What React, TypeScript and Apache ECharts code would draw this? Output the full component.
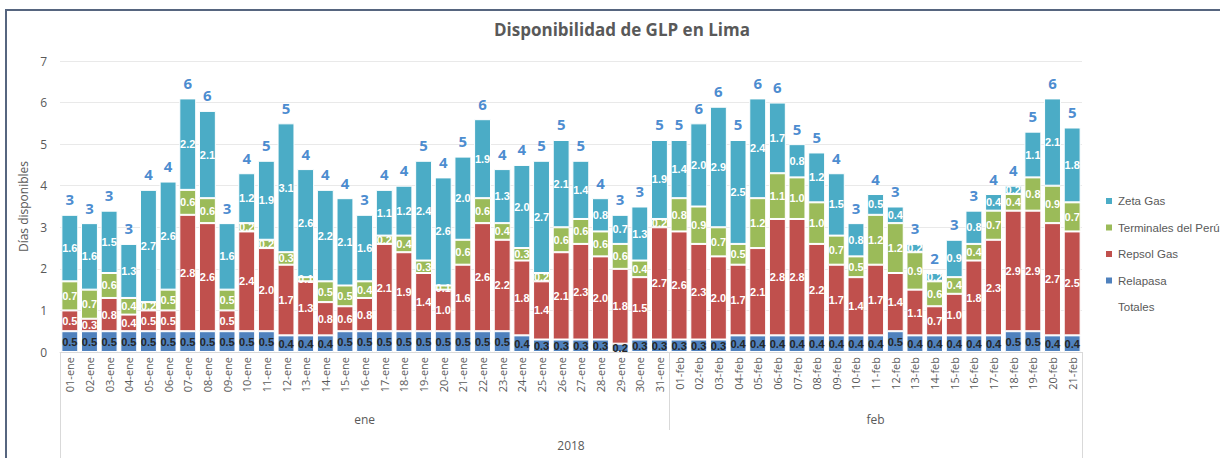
import React, { useEffect, useRef } from "react";
import * as echarts from "echarts";

const categories: string[] = [
  "01-ene", "02-ene", "03-ene", "04-ene", "05-ene", "06-ene", "07-ene", "08-ene", "09-ene", "10-ene",
  "11-ene", "12-ene", "13-ene", "14-ene", "15-ene", "16-ene", "17-ene", "18-ene", "19-ene", "20-ene",
  "21-ene", "22-ene", "23-ene", "24-ene", "25-ene", "26-ene", "27-ene", "28-ene", "29-ene", "30-ene",
  "31-ene",
  "01-feb", "02-feb", "03-feb", "04-feb", "05-feb", "06-feb", "07-feb", "08-feb", "09-feb", "10-feb",
  "11-feb", "12-feb", "13-feb", "14-feb", "15-feb", "16-feb", "17-feb", "18-feb", "19-feb", "20-feb",
  "21-feb",
];

const months: string[] = ["ene", "feb"];
const monthDays: number[] = [31, 21];
const yearLabel = "2018";

const relapasa: number[] = [
  0.5, 0.5, 0.5, 0.5, 0.5, 0.5, 0.5, 0.5, 0.5, 0.5,
  0.5, 0.4, 0.4, 0.4, 0.5, 0.5, 0.5, 0.5, 0.5, 0.5,
  0.5, 0.5, 0.5, 0.4, 0.3, 0.3, 0.3, 0.3, 0.2, 0.3,
  0.3,
  0.3, 0.3, 0.3, 0.4, 0.4, 0.4, 0.4, 0.4, 0.4, 0.4,
  0.4, 0.5, 0.4, 0.4, 0.4, 0.4, 0.4, 0.5, 0.5, 0.4,
  0.4,
];

const repsol: number[] = [
  0.5, 0.3, 0.8, 0.4, 0.5, 0.5, 2.8, 2.6, 0.5, 2.4,
  2.0, 1.7, 1.3, 0.8, 0.6, 0.8, 2.1, 1.9, 1.4, 1.0,
  1.6, 2.6, 2.2, 1.8, 1.4, 2.1, 2.3, 2.0, 1.8, 1.5,
  2.7,
  2.6, 2.3, 2.0, 1.7, 2.1, 2.8, 2.8, 2.2, 1.7, 1.4,
  1.7, 1.4, 1.1, 0.7, 1.0, 1.8, 2.3, 2.9, 2.9, 2.7,
  2.5,
];

const terminales: number[] = [
  0.7, 0.7, 0.6, 0.4, 0.2, 0.5, 0.6, 0.6, 0.5, 0.2,
  0.2, 0.3, 0.1, 0.5, 0.5, 0.4, 0.2, 0.4, 0.3, 0.1,
  0.6, 0.6, 0.4, 0.3, 0.2, 0.6, 0.6, 0.6, 0.6, 0.4,
  0.2,
  0.8, 0.9, 0.7, 0.5, 1.2, 1.1, 1.0, 1.0, 0.7, 0.5,
  1.2, 1.2, 0.9, 0.6, 0.4, 0.4, 0.7, 0.4, 0.8, 0.9,
  0.7,
];

const zeta: number[] = [
  1.6, 1.6, 1.5, 1.3, 2.7, 2.6, 2.2, 2.1, 1.6, 1.2,
  1.9, 3.1, 2.6, 2.2, 2.1, 1.6, 1.1, 1.2, 2.4, 2.6,
  2.0, 1.9, 1.3, 2.0, 2.7, 2.1, 1.4, 0.8, 0.7, 1.3,
  1.9,
  1.4, 2.0, 2.9, 2.5, 2.4, 1.7, 0.8, 1.2, 1.5, 0.8,
  0.5, 0.4, 0.2, 0.2, 0.9, 0.8, 0.4, 0.2, 1.1, 2.1,
  1.8,
];

const totalLabels: number[] = [
  3, 3, 3, 3, 4, 4, 6, 6, 3, 4,
  5, 5, 4, 4, 4, 3, 4, 4, 5, 4,
  5, 6, 4, 4, 5, 5, 5, 4, 3, 3,
  5,
  5, 6, 6, 5, 6, 6, 5, 5, 4, 3,
  4, 3, 3, 2, 3, 3, 4, 4, 5, 6,
  5,
];

const yTicks = { min: 0, max: 7, interval: 1 };

const GRAY = "#595959";
const FONT = "'Open Sans', 'Noto Sans', sans-serif";
const LABEL_FONT = "'Liberation Sans', Arial, sans-serif";

export default function App() {
  const ref = useRef<HTMLDivElement>(null);

  useEffect(() => {
    if (!ref.current) return;
    const chart = echarts.init(ref.current, null, { renderer: "svg" });

    const totals = categories.map((_, i) => relapasa[i] + repsol[i] + terminales[i] + zeta[i]);
    const n = categories.length;

    const monthBounds: number[] = [];
    const monthCenters: number[] = [];
    let acc = 0;
    monthDays.forEach((d, i) => {
      monthCenters.push(acc + d / 2);
      acc += d;
      if (i < monthDays.length - 1) monthBounds.push(acc);
    });

    const segLabel = (color: string) => ({
      show: true,
      position: "inside" as const,
      color,
      fontFamily: LABEL_FONT,
      fontWeight: "bold" as const,
      fontSize: 11,
      formatter: (p: any) => Number(p.value).toFixed(1),
    });

    const barBase = {
      type: "bar" as const,
      stack: "total",
      barCategoryGap: "14%",
      xAxisIndex: 0,
      yAxisIndex: 0,
    };

    const option: any = {
      animation: false,
      backgroundColor: "#ffffff",
      textStyle: { fontFamily: FONT },
      title: {
        text: "Disponibilidad de GLP en Lima",
        left: 617,
        top: 16,
        textAlign: "center",
        textStyle: { color: GRAY, fontSize: 17, fontWeight: "bold", fontFamily: FONT },
      },
      graphic: [
        {
          type: "rect",
          shape: { x: 6, y: 10, width: 1400, height: 700 },
          style: { fill: "none", stroke: "#56657f", lineWidth: 2 },
          silent: true,
        },
      ],
      legend: {
        orient: "vertical",
        left: 1104,
        top: 195,
        padding: 0,
        itemWidth: 8,
        itemHeight: 8,
        itemGap: 14.5,
        icon: "rect",
        textStyle: { color: GRAY, fontSize: 11.5, fontFamily: LABEL_FONT },
        data: [
          { name: "Zeta Gas" },
          { name: "Terminales del Perú" },
          { name: "Repsol Gas" },
          { name: "Relapasa" },
          { name: "Totales", itemStyle: { color: "rgba(0,0,0,0)" } },
        ],
      },
      grid: { left: 60, right: 138, top: 61, bottom: 106, containLabel: false },
      xAxis: [
        {
          type: "category",
          data: categories,
          axisLine: { show: true, lineStyle: { color: "#d9d9d9" } },
          axisTick: { show: false },
          axisLabel: {
            interval: 0,
            rotate: 90,
            color: GRAY,
            fontSize: 11,
            fontFamily: FONT,
            margin: 5,
          },
        },
        {
          type: "value",
          min: 0,
          max: n,
          position: "bottom",
          axisLine: { show: false },
          splitLine: { show: false },
          axisTick: {
            show: true,
            customValues: monthBounds,
            length: 78,
            lineStyle: { color: "#d9d9d9" },
          },
          axisLabel: {
            show: true,
            customValues: monthCenters,
            formatter: (v: number) => {
              const idx = monthCenters.findIndex((c) => Math.abs(c - v) < 1e-6);
              return idx >= 0 ? months[idx] : "";
            },
            color: GRAY,
            fontSize: 12,
            fontFamily: FONT,
            margin: 61,
          },
        },
        {
          type: "value",
          min: 0,
          max: n,
          position: "bottom",
          axisLine: { show: false },
          splitLine: { show: false },
          axisTick: {
            show: true,
            customValues: [0, n],
            length: 106,
            lineStyle: { color: "#d9d9d9" },
          },
          axisLabel: {
            show: true,
            customValues: [n / 2],
            formatter: () => yearLabel,
            color: GRAY,
            fontSize: 12,
            fontFamily: FONT,
            margin: 87,
          },
        },
      ],
      yAxis: {
        type: "value",
        min: yTicks.min,
        max: yTicks.max,
        interval: yTicks.interval,
        name: "Días disponibles",
        nameLocation: "middle",
        nameGap: 24,
        nameRotate: 90,
        nameTextStyle: { color: GRAY, fontSize: 12, fontFamily: FONT },
        axisLine: { show: false },
        axisTick: { show: false },
        axisLabel: { color: GRAY, fontSize: 12, fontFamily: FONT, margin: 13 },
        splitLine: { lineStyle: { color: "#e9e9e9" } },
      },
      series: [
        {
          ...barBase,
          name: "Relapasa",
          data: relapasa,
          itemStyle: { color: "#4f81bd", borderColor: "#ffffff", borderWidth: 1 },
          label: segLabel("#262626"),
        },
        {
          ...barBase,
          name: "Repsol Gas",
          data: repsol,
          itemStyle: { color: "#c0504d", borderColor: "#ffffff", borderWidth: 1 },
          label: segLabel("#ffffff"),
        },
        {
          ...barBase,
          name: "Terminales del Perú",
          data: terminales,
          itemStyle: { color: "#9bbb59", borderColor: "#ffffff", borderWidth: 1 },
          label: segLabel("#ffffff"),
        },
        {
          ...barBase,
          name: "Zeta Gas",
          data: zeta,
          itemStyle: { color: "#4bacc6", borderColor: "#ffffff", borderWidth: 1 },
          label: segLabel("#ffffff"),
        },
        {
          type: "scatter",
          name: "Totales",
          xAxisIndex: 0,
          yAxisIndex: 0,
          data: totals,
          symbol: "circle",
          symbolSize: 2,
          itemStyle: { color: "rgba(0,0,0,0)" },
          label: {
            show: true,
            position: "top",
            distance: 7,
            color: "#1a6ec4",
            fontSize: 15,
            fontWeight: "bold",
            fontFamily: FONT,
            formatter: (p: any) => String(totalLabels[p.dataIndex]),
          },
          z: 5,
        },
      ],
    };

    chart.setOption(option);
    return () => chart.dispose();
  }, []);

  return (
    <div
      ref={ref}
      style={{ position: "fixed", left: 0, top: 0, width: 1220, height: 458, background: "#fff" }}
    />
  );
}
